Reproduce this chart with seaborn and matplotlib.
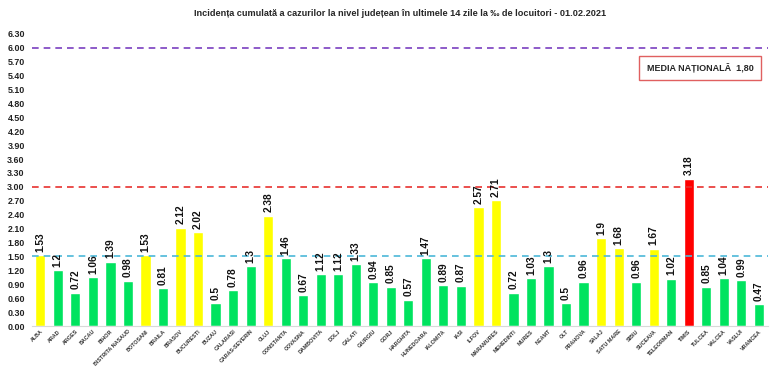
import numpy as np
import matplotlib
matplotlib.use('Agg')
import matplotlib.pyplot as plt
import seaborn as sns

judete = ['ALBA', 'ARAD', 'ARGES', 'BACAU', 'BIHOR', 'BISTRITA NASAUD', 'BOTOSANI',
          'BRAILA', 'BRASOV', 'BUCURESTI', 'BUZAU', 'CALARASI', 'CARAS-SEVERIN', 'CLUJ',
          'CONSTANTA', 'COVASNA', 'DAMBOVITA', 'DOLJ', 'GALATI', 'GIURGIU', 'GORJ',
          'HARGHITA', 'HUNEDOARA', 'IALOMITA', 'IASI', 'ILFOV', 'MARAMURES', 'MEHEDINTI',
          'MURES', 'NEAMT', 'OLT', 'PRAHOVA', 'SALAJ', 'SATU MARE', 'SIBIU', 'SUCEAVA',
          'TELEORMAN', 'TIMIS', 'TULCEA', 'VALCEA', 'VASLUI', 'VRANCEA']
incidenta = [1.53, 1.2, 0.72, 1.06, 1.39, 0.98, 1.53, 0.81, 2.12, 2.02, 0.5, 0.78, 1.3,
             2.38, 1.46, 0.67, 1.12, 1.12, 1.33, 0.94, 0.85, 0.57, 1.47, 0.89, 0.87,
             2.57, 2.71, 0.72, 1.03, 1.3, 0.5, 0.96, 1.9, 1.68, 0.96, 1.67, 1.02, 3.18,
             0.85, 1.04, 0.99, 0.47]
praguri = [1.5, 3.0, 6.0]
media_nationala = '1,80'

sns.set_style('white')
plt.rcParams['font.family'] = ['Liberation Sans', 'DejaVu Sans']

def culoare(v):
    if v >= 3.0:
        return '#FF0000'
    if v >= 1.5:
        return '#FFFF00'
    return '#00E35F'

palette = {j: culoare(v) for j, v in zip(judete, incidenta)}

fig = plt.figure(figsize=(7.7, 3.68), dpi=100)
ax = fig.add_axes([0.041, 0.114, 0.957, 0.794])

sns.barplot(x=judete, y=incidenta, hue=judete, palette=palette, legend=False,
            width=0.58, ax=ax, saturation=1)

# praguri
ax.axhline(praguri[0], color='#4BB8D8', ls=(0, (4, 3)), lw=1.2, zorder=3)
ax.axhline(praguri[1], color='#E8312F', ls=(0, (4, 3)), lw=1.2, zorder=3)
ax.axhline(praguri[2], color='#7A3FC0', ls=(0, (4, 3)), lw=1.2, zorder=3)

for i, v in enumerate(incidenta):
    ax.text(i, v + 0.07, f'{v:g}', rotation=90, ha='center', va='bottom',
            fontsize=7.3, fontweight='bold', color='#111111')

ax.set_ylim(0, 6.3)
ax.set_xlim(-0.5, len(judete) - 0.45)
ticks = np.arange(0, 6.31, 0.3)
ax.set_yticks(ticks)
ax.set_yticklabels([f'{t:.2f}' for t in ticks], fontsize=6.4,
                   fontweight='bold', color='#222222')
ax.tick_params(axis='y', length=0, pad=5)
ax.tick_params(axis='x', length=0, pad=2)
ax.set_xticks(range(len(judete)))
ax.set_xticklabels(judete, rotation=45, ha='right', rotation_mode='anchor',
                   fontsize=3.9, fontweight='bold', color='#333333')
for s in ['top', 'right', 'left']:
    ax.spines[s].set_visible(False)
ax.spines['bottom'].set_color('#D9D9D9')
ax.spines['bottom'].set_linewidth(0.8)

fig.text(0.52, 0.962, 'Incidența cumulată a cazurilor la nivel județean în ultimele 14 zile la ‰ de locuitori - 01.02.2021',
         ha='center', va='center', fontsize=6.6, fontweight='bold')

fig.text(0.909, 0.815, f'MEDIA NAȚIONALĂ  {media_nationala}', ha='center', va='center',
         fontsize=6.5, fontweight='bold',
         bbox=dict(boxstyle='square,pad=0.8', fc='white', ec='#E06060', lw=1))

fig.savefig('out.png', dpi=100)
